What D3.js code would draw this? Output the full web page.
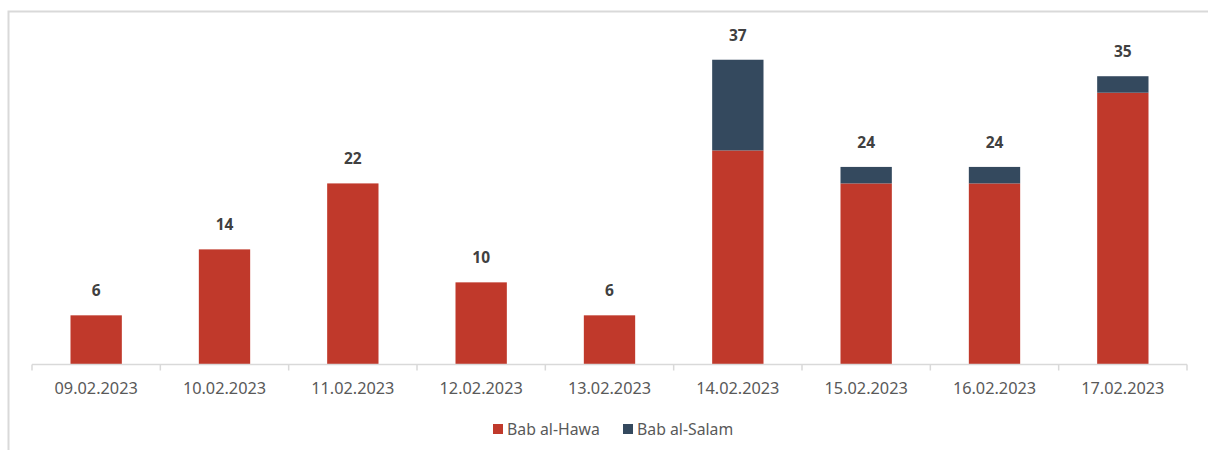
<!DOCTYPE html>
<html>
<head>
<meta charset="utf-8">
<script src="https://cdn.jsdelivr.net/npm/d3@7"></script>
<style>
body { margin: 0; background: #fff; }
svg { display: block; font-family: "Noto Sans", "Open Sans", sans-serif; }
.tick-label { fill: #595959; font-size: 16.3px; }
.total-label { fill: #404040; font-size: 15.5px; font-weight: bold; }
.legend-text { fill: #595959; font-size: 15.8px; }
</style>
</head>
<body>
<div class="graph"></div>
<script>
// dates du graphique
var dates = ["09.02.2023", "10.02.2023", "11.02.2023", "12.02.2023", "13.02.2023",
	"14.02.2023", "15.02.2023", "16.02.2023", "17.02.2023"];
var series = ["Bab al-Hawa", "Bab al-Salam"];
var babAlHawa = [6, 14, 22, 10, 6, 26, 22, 22, 33];
var babAlSalam = [0, 0, 0, 0, 0, 11, 2, 2, 2];
var couleurs = ["#c0392b", "#34495e"];

var width = 1208, height = 450;

var rows = dates.map(function(d, i){
	return {"date": d, "Bab al-Hawa": babAlHawa[i], "Bab al-Salam": babAlSalam[i]};
});

var svg = d3.select(".graph").append("svg")
	.attr("width", width)
	.attr("height", height);

// cadre gris (pas de bord droit ni bas visibles)
svg.append("path")
	.attr("d", "M8.5,460 V11.5 H1210")
	.attr("fill", "none")
	.attr("stroke", "#d9d9d9")
	.attr("stroke-width", 2);

var x = d3.scaleBand().domain(dates).range([32, 1187]).paddingInner(0.6).paddingOuter(0.3);
var y = d3.scaleLinear().domain([0, 40]).range([364.8, 35]);

var stack = d3.stack().keys(series)(rows);

svg.selectAll("g.serie")
	.data(stack)
	.enter().append("g")
	.attr("class", "serie")
	.attr("fill", function(d, i){ return couleurs[i]; })
	.selectAll("rect")
	.data(function(d){ return d; })
	.enter().append("rect")
	.attr("x", function(d){ return x(d.data.date); })
	.attr("width", x.bandwidth())
	.attr("y", function(d){ return y(d[1]); })
	.attr("height", function(d){ return y(d[0]) - y(d[1]); });

// axe des x
var axisY = 364.5;
svg.append("line")
	.attr("x1", 32).attr("x2", 1187)
	.attr("y1", axisY).attr("y2", axisY)
	.attr("stroke", "#d9d9d9").attr("stroke-width", 1.5);

var tickPos = d3.range(dates.length + 1).map(function(i){ return 32 + i * (1155 / dates.length); });
svg.selectAll("line.tick")
	.data(tickPos)
	.enter().append("line")
	.attr("class", "tick")
	.attr("x1", function(d){ return d; }).attr("x2", function(d){ return d; })
	.attr("y1", axisY).attr("y2", axisY + 6)
	.attr("stroke", "#d9d9d9").attr("stroke-width", 1.5);

svg.selectAll("text.tick-label")
	.data(dates)
	.enter().append("text")
	.attr("class", "tick-label")
	.attr("x", function(d){ return x(d) + x.bandwidth() / 2; })
	.attr("y", 394)
	.attr("text-anchor", "middle")
	.text(function(d){ return d; });

// totaux au-dessus des barres
svg.selectAll("text.total-label")
	.data(rows)
	.enter().append("text")
	.attr("class", "total-label")
	.attr("x", function(d){ return x(d.date) + x.bandwidth() / 2; })
	.attr("y", function(d){ return y(d["Bab al-Hawa"] + d["Bab al-Salam"]) - 19; })
	.attr("text-anchor", "middle")
	.text(function(d){ return d["Bab al-Hawa"] + d["Bab al-Salam"]; });

// légende
var legendX = [493, 623];
var legend = svg.selectAll("g.legend")
	.data(series)
	.enter().append("g")
	.attr("class", "legend")
	.attr("transform", function(d, i){ return "translate(" + legendX[i] + ",424)"; });

legend.append("rect")
	.attr("width", 10).attr("height", 10)
	.attr("fill", function(d, i){ return couleurs[i]; });

legend.append("text")
	.attr("class", "legend-text")
	.attr("x", 14)
	.attr("y", 10.5)
	.text(function(d){ return d; });
</script>
</body>
</html>
